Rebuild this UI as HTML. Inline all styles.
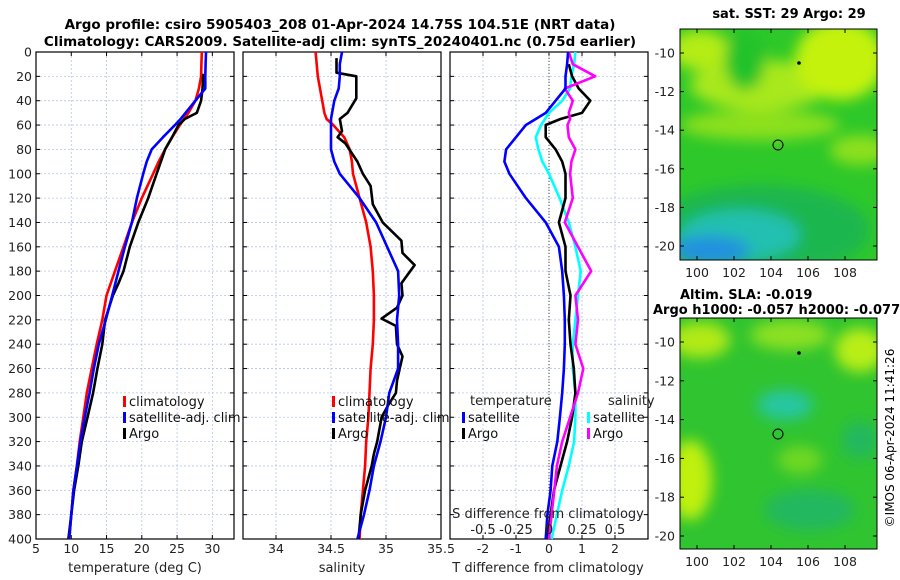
<!DOCTYPE html>
<html><head><meta charset="utf-8"><style>
body{margin:0;background:#fff;}
svg{display:block;font-family:"DejaVu Sans","Liberation Sans",sans-serif;}
</style></head><body>
<svg id="c" width="900" height="580" viewBox="0 0 900 580">
<defs>
<filter id="bl" x="-20%" y="-20%" width="140%" height="140%"><feGaussianBlur stdDeviation="7"/></filter>
<clipPath id="m1"><rect x="680" y="29" width="197" height="231"/></clipPath>
<clipPath id="m2"><rect x="680" y="318" width="197" height="231"/></clipPath>
</defs>
<g font-weight="bold" font-size="13.5" text-anchor="middle">
<text x="340" y="29">Argo profile: csiro 5905403_208 01-Apr-2024 14.75S 104.51E (NRT data)</text>
<text x="340" y="46">Climatology: CARS2009. Satellite-adj clim: synTS_20240401.nc (0.75d earlier)</text>
</g>
<g id="plots"></g>
<!-- SST map -->
<g>
<text x="789" y="18" font-size="13" font-weight="bold" text-anchor="middle">sat. SST: 29 Argo: 29</text>
<g clip-path="url(#m1)">
<rect x="680" y="29" width="197" height="231" fill="#2ec82a"/>
<g filter="url(#bl)">
<ellipse cx="760" cy="85" rx="70" ry="25" fill="#a8e81a"/>
<ellipse cx="840" cy="60" rx="45" ry="40" fill="#c4f210"/>
<ellipse cx="700" cy="50" rx="30" ry="20" fill="#b4ec18"/>
<ellipse cx="760" cy="125" rx="80" ry="15" fill="#8ce01e"/>
<ellipse cx="745" cy="60" rx="20" ry="30" fill="#22c22c"/>
<ellipse cx="860" cy="150" rx="30" ry="15" fill="#8ce01e"/>
<ellipse cx="760" cy="230" rx="110" ry="45" fill="#1cb650"/>
<ellipse cx="740" cy="235" rx="60" ry="25" fill="#20c0b0"/>
<ellipse cx="710" cy="250" rx="40" ry="14" fill="#2090e0"/>
</g>
</g>
<rect x="680" y="29" width="197" height="231" fill="none" stroke="#000"/>
<circle cx="778" cy="145" r="5" fill="none" stroke="#000"/>
<circle cx="799" cy="63" r="1.8" fill="#000"/>
</g>
<g>
<text x="680" y="299" font-size="13" font-weight="bold">Altim. SLA: -0.019</text>
<text x="653" y="314" font-size="13" font-weight="bold">Argo h1000: -0.057 h2000: -0.077</text>
<g clip-path="url(#m2)">
<rect x="680" y="318" width="197" height="231" fill="#30c430"/>
<g filter="url(#bl)">
<ellipse cx="700" cy="340" rx="30" ry="18" fill="#b0ea18"/>
<ellipse cx="790" cy="335" rx="40" ry="15" fill="#8ce020"/>
<ellipse cx="860" cy="350" rx="25" ry="22" fill="#b8ee14"/>
<ellipse cx="785" cy="405" rx="28" ry="15" fill="#26c6a0"/>
<ellipse cx="690" cy="480" rx="22" ry="40" fill="#c0f010"/>
<ellipse cx="800" cy="460" rx="22" ry="14" fill="#70d820"/>
<ellipse cx="810" cy="510" rx="45" ry="20" fill="#22b860"/>
<ellipse cx="860" cy="440" rx="18" ry="18" fill="#22b860"/>
</g>
</g>
<rect x="680" y="318" width="197" height="231" fill="none" stroke="#000"/>
<circle cx="778" cy="434" r="5" fill="none" stroke="#000"/>
<circle cx="799" cy="353" r="1.8" fill="#000"/>
</g>
<g id="maxes"></g>
<text transform="translate(894,438) rotate(-90)" font-size="12" text-anchor="middle">©IMOS 06-Apr-2024 11:41:26</text>
</svg>
<script>
const depths=[0,10,20,30,40,50,55,60,70,80,90,100,120,140,160,180,200,220,240,260,280,300,320,340,360,380,400];
const tClim=[28.5,28.45,28.4,28.1,27.6,26.6,26.0,25.4,24.3,23.3,22.4,21.6,20.0,18.6,17.4,16.2,15.0,14.4,13.6,12.9,12.2,11.7,11.2,10.8,10.3,10.0,9.7];
const tSat=[29.1,29.05,29.0,29.0,27.6,26.2,25.5,24.7,23.0,21.4,20.7,20.2,19.3,18.6,17.6,16.7,15.8,14.9,13.9,13.2,12.6,11.9,11.3,10.8,10.3,10.0,9.7];
const argoDepths=[18,20,30,40,50,55,60,70,80,90,100,120,140,160,180,190,200,220,240,260,280,300,320,340,360,380,400];
const tArgo=[28.8,28.7,28.6,28.4,27.8,26.1,25.2,24.3,23.3,22.7,22.1,20.9,19.5,18.3,17.4,16.7,15.9,14.8,14.4,13.7,13.1,12.3,11.5,11.0,10.4,10.0,9.6];
const sClim=[34.36,34.37,34.38,34.40,34.42,34.44,34.46,34.52,34.62,34.67,34.69,34.70,34.76,34.82,34.86,34.88,34.89,34.89,34.88,34.86,34.85,34.84,34.82,34.81,34.79,34.77,34.76];
const sSat=[34.60,34.58,34.58,34.57,34.53,34.51,34.50,34.50,34.50,34.50,34.53,34.58,34.76,34.91,35.01,35.11,35.12,35.10,35.11,35.11,35.03,35.00,34.95,34.89,34.85,34.80,34.74];
const sArgoDepths=[5,17,20,38,50,55,65,70,75,90,100,110,125,140,155,165,175,190,200,210,219,225,240,250,270,280,290,300,320,330,340,360,380,400];
const sArgo=[34.55,34.55,34.73,34.73,34.65,34.58,34.60,34.56,34.63,34.74,34.79,34.86,34.88,34.97,35.14,35.15,35.26,35.14,35.15,35.10,34.96,35.09,35.10,35.15,35.10,35.09,35.02,34.96,34.92,34.89,34.87,34.81,34.77,34.75];
const dDepths=[0,10,20,30,40,50,55,60,70,80,90,100,120,140,160,180,200,220,240,260,280,300,320,340,360,380,400];
const dTSat=[0.58,0.55,0.5,0.5,0.2,-0.1,-0.4,-0.7,-1.0,-1.3,-1.35,-1.2,-0.7,-0.1,0.3,0.4,0.45,0.48,0.48,0.45,0.40,0.33,0.25,0.1,0.05,-0.05,-0.1];
const dTArgo=[null,0.6,0.7,0.9,1.25,1.0,0.35,-0.1,-0.1,0.2,0.4,0.5,0.5,0.3,0.5,0.5,0.65,0.6,0.65,0.75,0.8,0.7,0.55,0.35,0.15,0.05,-0.05];
const dSSat=[0.2,0.19,0.17,0.16,0.1,0.0,-0.03,-0.06,-0.1,-0.08,-0.05,0.0,0.08,0.15,0.2,0.24,0.22,0.2,0.18,0.18,0.2,0.2,0.19,0.15,0.1,0.06,0.02];
const dSArgo=[0.15,0.18,0.35,0.12,0.18,0.15,0.16,0.14,0.15,0.2,0.17,0.16,0.18,0.12,0.22,0.32,0.2,0.22,0.2,0.26,0.22,0.16,0.10,0.06,0.04,0.02,0.0];
const depthTicks=[0,20,40,60,80,100,120,140,160,180,200,220,240,260,280,300,320,340,360,380,400];
const tTicks=[5,10,15,20,25,30];
const sTicks=[34,34.5,35,35.5];
const dTTicks=[-2,-1,0,1,2];
const dSTicks=[-0.5,-0.25,0,0.25,0.5];
const latTicks=[-10,-12,-14,-16,-18,-20];
const lonTicks=[100,102,104,106,108];

const NS='http://www.w3.org/2000/svg';
const plots=document.getElementById('plots');
const maxes=document.getElementById('maxes');
function mk(tag,attrs,parent){const e=document.createElementNS(NS,tag);for(const k in attrs)e.setAttribute(k,attrs[k]);parent.appendChild(e);return e;}
const Y0=52,Y1=539;
const yD=d=>Y0+(Y1-Y0)*d/400;
const P1={x0:36,x1:234,lo:5,hi:33.07};
const P2={x0:243,x1:441,lo:33.7,hi:35.5};
const P3={x0:450,x1:648,lo:-3,hi:3};
const sx=(p,v)=>p.x0+(p.x1-p.x0)*(v-p.lo)/(p.hi-p.lo);
const sxS=v=>sx(P3,v*4);

function panel(p,name,xticks,labelY){
  const g=mk('g',{},plots);
  
  
  for(const t of xticks){const x=sx(p,t);mk('line',{x1:x,x2:x,y1:Y0,y2:Y1,stroke:'#b8c4e8','stroke-width':0.8,'stroke-dasharray':'2,2'},g);}
  for(const d of depthTicks){const y=yD(d);mk('line',{x1:p.x0,x2:p.x1,y1:y,y2:y,stroke:'#b8c4e8','stroke-width':0.8,'stroke-dasharray':'2,2'},g);
    mk('line',{x1:p.x0,x2:p.x0+4,y1:y,y2:y,stroke:'#000'},g);mk('line',{x1:p.x1-4,x2:p.x1,y1:y,y2:y,stroke:'#000'},g);
    if(labelY){const t=mk('text',{x:p.x0-4,y:y+4.5,'font-size':12.5,'text-anchor':'end',fill:'#222'},g);t.textContent=d;
      
      }}
  for(const v of xticks){const x=sx(p,v);mk('line',{x1:x,x2:x,y1:Y1-4,y2:Y1,stroke:'#000'},g);mk('line',{x1:x,x2:x,y1:Y0,y2:Y0+4,stroke:'#000'},g);
    const t=mk('text',{x:x,y:553,'font-size':12.5,'text-anchor':'middle',fill:'#222'},g);t.textContent=v;
    
    }
  mk('rect',{x:p.x0,y:Y0,width:p.x1-p.x0,height:Y1-Y0,fill:'none',stroke:'#000','stroke-width':1.2},g);
  return g;
}
function line(g,xs,ds,fx,color,name,w){
  let d='';let pen=false;
  xs.forEach((v,i)=>{if(v===null){pen=false;return;}d+=(pen?'L':'M')+fx(v).toFixed(1)+','+yD(ds[i]).toFixed(1);pen=true;});
  const e=mk('path',{d:d,fill:'none',stroke:color,'stroke-width':w||2.6,'stroke-linejoin':'round'},g);
  
  
}
function legend(g,x,y,color,label,name){
  mk('rect',{x:x,y:y-10,width:3,height:11,fill:color},g);
  const t=mk('text',{x:x+6,y:y,'font-size':13,fill:'#111'},g);t.textContent=label;
  
  
}
function label(g,x,y,s,name,anchor){const t=mk('text',{x:x,y:y,'font-size':13,'text-anchor':anchor||'middle',fill:'#222'},g);t.textContent=s;
  
  }

// Panel 1
let g1=panel(P1,'temperature-panel',tTicks,true);
line(g1,tClim,depths,v=>sx(P1,v),'#f00','temperature-climatology-line');
line(g1,tArgo,argoDepths,v=>sx(P1,v),'#000','temperature-argo-line');
line(g1,tSat,depths,v=>sx(P1,v),'#00f','temperature-satellite-line');
legend(g1,123,406,'#f00','climatology','legend-climatology');
legend(g1,123,422,'#00f','satellite-adj. clim','legend-satellite');
legend(g1,123,438,'#000','Argo','legend-argo');
label(g1,135,572,'temperature (deg C)','temperature-axis-title');
// Panel 2
let g2=panel(P2,'salinity-panel',sTicks,false);
line(g2,sClim,depths,v=>sx(P2,v),'#f00','salinity-climatology-line');
line(g2,sArgo,sArgoDepths,v=>sx(P2,v),'#000','salinity-argo-line');
line(g2,sSat,depths,v=>sx(P2,v),'#00f','salinity-satellite-line');
legend(g2,332,406,'#f00','climatology','legend-climatology-s');
legend(g2,332,422,'#00f','satellite-adj. clim','legend-satellite-s');
legend(g2,332,438,'#000','Argo','legend-argo-s');
label(g2,342,572,'salinity','salinity-axis-title');
// Panel 3
let g3=panel(P3,'difference-panel',dTTicks,false);
mk('line',{x1:sx(P3,0),x2:sx(P3,0),y1:Y0,y2:Y1,stroke:'#444','stroke-width':1,'stroke-dasharray':'1,2'},g3);
line(g3,dSSat,dDepths,sxS,'#0ff','salinity-diff-satellite-line');
line(g3,dTArgo,dDepths,v=>sx(P3,v),'#000','temperature-diff-argo-line');
line(g3,dSArgo,dDepths,sxS,'#f0f','salinity-diff-argo-line');
line(g3,dTSat,dDepths,v=>sx(P3,v),'#00f','temperature-diff-satellite-line');
label(g3,470,405,'temperature','legend-temperature-header','start');
label(g3,608,405,'salinity','legend-salinity-header','start');
legend(g3,462,422,'#00f','satellite','legend-t-satellite');
legend(g3,462,438,'#000','Argo','legend-t-argo');
legend(g3,587,422,'#0ff','satellite','legend-s-satellite');
legend(g3,587,438,'#f0f','Argo','legend-s-argo');
label(g3,548,518,'S difference from climatology','s-axis-title');
for(const v of dSTicks){label(g3,sxS(v),534,String(v).replace('0.','.').replace('-.','-0.').replace(/^\./,'0.'),'s-tick-label');}
label(g3,548,572,'T difference from climatology','t-axis-title');

// map axes
function mapAxes(y0,y1,latTop,latBot,name){
  const g=mk('g',{},maxes);
  
  
  const ly=l=>latTop+(latBot-latTop)*(l+10)/(-10);
  for(const l of latTicks){const y=ly(l);mk('line',{x1:680,x2:684,y1:y,y2:y,stroke:'#000'},g);mk('line',{x1:873,x2:877,y1:y,y2:y,stroke:'#000'},g);
    const t=mk('text',{x:675,y:y+4.5,'font-size':12.5,'text-anchor':'end',fill:'#222'},g);t.textContent=l;
    
    }
  for(const o of lonTicks){const x=697+(o-100)*18.5;mk('line',{x1:x,x2:x,y1:y1-4,y2:y1,stroke:'#000'},g);mk('line',{x1:x,x2:x,y1:y0,y2:y0+4,stroke:'#000'},g);
    const t=mk('text',{x:x,y:y1+17,'font-size':12.5,'text-anchor':'middle',fill:'#222'},g);t.textContent=o;
    
    }
}
mapAxes(29,260,53,246,'sst-map-axes');
mapAxes(318,549,342,536,'sla-map-axes');
</script>
</body></html>
